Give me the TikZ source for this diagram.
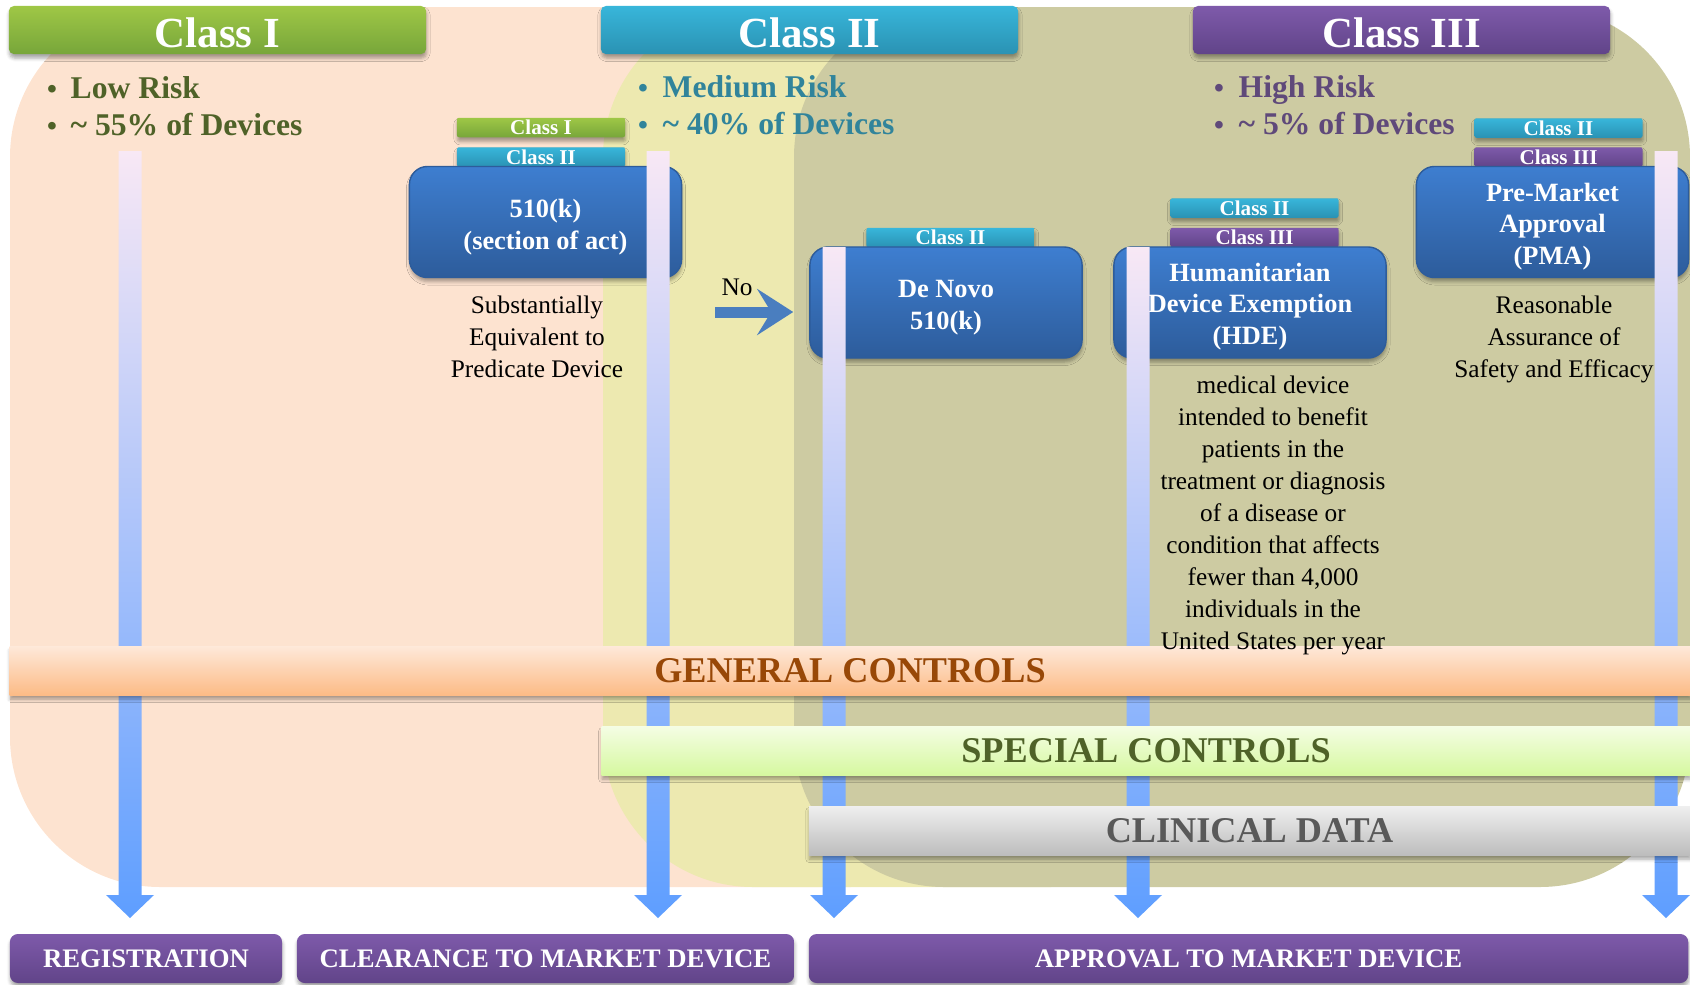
\documentclass[tikz,border=0pt]{standalone}
\usepackage{fontspec}
\setmainfont{Liberation Serif}
\usetikzlibrary{shadows.blur, arrows.meta}

\definecolor{cPeach}{HTML}{FDE3D0}
\definecolor{cYel}{HTML}{EDE9B0}
\definecolor{cOlv}{HTML}{CDCBA2}
\definecolor{grnT}{HTML}{9FC746}
\definecolor{grnB}{HTML}{77A63A}
\definecolor{tealT}{HTML}{38B6DA}
\definecolor{tealB}{HTML}{2A92B3}
\definecolor{purT}{HTML}{7E5AAA}
\definecolor{purB}{HTML}{614489}
\definecolor{bluT}{HTML}{3E7ED0}
\definecolor{bluB}{HTML}{2D5C9B}
\definecolor{arrT}{HTML}{F8E8F5}
\definecolor{arrM}{HTML}{B8D2F6}
\definecolor{arrB}{HTML}{5E9EFF}
\definecolor{cNo}{HTML}{4A7EBF}
\definecolor{txI}{HTML}{4F6228}
\definecolor{txII}{HTML}{31849B}
\definecolor{txIII}{HTML}{5F497A}
\definecolor{txGC}{HTML}{984807}
\definecolor{txCD}{HTML}{595959}
\definecolor{gcT}{HTML}{FEE8D8}
\definecolor{gcB}{HTML}{FCBB86}
\definecolor{scT}{HTML}{F4FDE3}
\definecolor{scB}{HTML}{D6F8A0}
\definecolor{cdT}{HTML}{EEEEEE}
\definecolor{cdB}{HTML}{BDBDBD}

\newcommand{\fsz}[2]{\fontsize{#1}{#2}\selectfont}
\newcommand{\varr}[3]{%
  \shade[top color=arrT, middle color=arrM, bottom color=arrB]
    (#2-11.5,#3) -- (#2+11.5,#3) -- (#2+11.5,895) -- (#2+24,895) -- (#2,918)
    -- (#2-24,895) -- (#2-11.5,895) -- cycle;
  \coordinate (#1) at (#2,918);}

\tikzset{
  shad/.style={blur shadow={shadow xshift=0.005cm, shadow yshift=-0.04cm, shadow opacity=35,
    shadow blur radius=0.035cm, shadow blur steps=4}},
  hdr/.style={minimum width=4.17cm, minimum height=0.48cm, inner sep=0, rounded corners=0.05cm,
    shad},
  hdrtxt/.style={anchor=base, inner sep=0, text=white, font=\fsz{12.2}{14}\bfseries},
  btxt/.style={anchor=base west, inner sep=0, font=\fsz{9}{11}\bfseries},
  bdot/.style={anchor=base, inner sep=0, font=\fsz{8}{10}\bfseries},
  tagbox/.style={minimum width=1.68cm, minimum height=0.195cm, inner sep=0, rounded corners=0.02cm,
    text=white, font=\fsz{6}{7}\bfseries, shad},
  tagII/.style={tagbox, top color=tealT, bottom color=tealB},
  tagIII/.style={tagbox, top color=purT, bottom color=purB},
  tagI/.style={tagbox, top color=grnT, bottom color=grnB},
  bbox/.style={minimum width=2.72cm, minimum height=1.11cm, inner sep=0, rounded corners=0.18cm,
    top color=bluT, bottom color=bluB, draw=bluB, line width=0.4pt, shad},
  boxtxt/.style={anchor=base, inner sep=0, text=white, align=center, font=\fsz{7.5}{8.95}\bfseries},
  desc/.style={align=center, inner sep=0, font=\fsz{7.2}{9.07}, text=black},
  band/.style={minimum height=0.48cm, inner sep=0, font=\fsz{10.3}{12}\bfseries, shad},
  foot/.style={minimum height=0.49cm, inner sep=0, rounded corners=0.08cm, top color=purT, bottom color=purB,
    text=white, font=\fsz{7.6}{9}\bfseries, shad},
  noarrow/.style={draw=cNo, line width=0.11cm, -{Stealth[length=0.36cm, width=0.46cm, inset=0.14cm]}}
}

\begin{document}
\begin{tikzpicture}[x=0.01cm, y=-0.01cm]
\useasboundingbox (0,0) rectangle (1690,984);

% background regions
\fill[cPeach, rounded corners=1.5cm] (10,7) rectangle (1000,887);
\fill[cYel, rounded corners=1.5cm] (603,7) rectangle (1200,887);
\fill[cOlv, rounded corners=1.5cm] (794,7) rectangle (1690,887);

% headers
\node[hdr, top color=grnT, bottom color=grnB] (h1) at (217.5,30) {};
\node[hdrtxt] (h1t) at (217.5,47) {Class I};
\node[hdr, top color=tealT, bottom color=tealB] (h2) at (809.5,30) {};
\node[hdrtxt] (h2t) at (809.5,47) {Class II};
\node[hdr, top color=purT, bottom color=purB] (h3) at (1401.5,30) {};
\node[hdrtxt] (h3t) at (1401.5,47) {Class III};

% bullets
\node[bdot, text=txI] (d1a) at (52,98) {\textbullet};
\node[btxt, text=txI] (b1a) at (70,98) {Low Risk};
\node[bdot, text=txI] (d1b) at (52,135) {\textbullet};
\node[btxt, text=txI] (b1b) at (70,135) {\textasciitilde\ 55\% of Devices};
\node[bdot, text=txII] (d2a) at (643,97) {\textbullet};
\node[btxt, text=txII] (b2a) at (662,97) {Medium Risk};
\node[bdot, text=txII] (d2b) at (643,134) {\textbullet};
\node[btxt, text=txII] (b2b) at (662,134) {\textasciitilde\ 40\% of Devices};
\node[bdot, text=txIII] (d3a) at (1219,97) {\textbullet};
\node[btxt, text=txIII] (b3a) at (1238,97) {High Risk};
\node[bdot, text=txIII] (d3b) at (1219,134) {\textbullet};
\node[btxt, text=txIII] (b3b) at (1238,134) {\textasciitilde\ 5\% of Devices};

% tags
\node[tagI] (t1a) at (541,127.5) {Class I};
\node[tagII] (t1b) at (541,157) {Class II};
\node[tagII] (t2) at (950.5,237.5) {Class II};
\node[tagII] (t3a) at (1254.5,208) {Class II};
\node[tagIII] (t3b) at (1254.5,237.5) {Class III};
\node[tagII] (t4a) at (1558.5,128) {Class II};
\node[tagIII] (t4b) at (1558.5,157) {Class III};

% blue boxes (text placed by the baseline of its last line)
\node[bbox] (k510) at (545.5,222) {};
\node[boxtxt] (k510t) at (545.5,249) {510(k)\\(section of act)};
\node[bbox] (denovo) at (946,302.5) {};
\node[boxtxt] (denovot) at (946,329) {De Novo\\510(k)};
\node[bbox] (hde) at (1250,302.5) {};
\node[boxtxt] (hdet) at (1250,344) {Humanitarian\\Device Exemption\\(HDE)};
\node[bbox] (pma) at (1552.5,222) {};
\node[boxtxt] (pmat) at (1552.5,264) {Pre-Market\\Approval\\(PMA)};

% No arrow
\node[desc, anchor=base] (no) at (737,295) {No};
\coordinate (noS) at (715,312);
\draw[noarrow] (noS) -- ([xshift=-0.16cm]noS -| denovo.west);

% vertical arrows
\varr{a1}{130}{151}
\varr{a2}{658}{151}
\varr{a3}{834}{247}
\varr{a4}{1138}{247}
\varr{a5}{1666}{151}

% bands
\node[band, minimum width=16.8cm, top color=gcT, bottom color=gcB, text=txGC] (gc) at (850,671) {GENERAL CONTROLS};
\node[band, minimum width=10.88cm, top color=scT, bottom color=scB, text=txI] (sc) at (1146,751) {SPECIAL CONTROLS};
\node[band, minimum width=8.81cm, top color=cdT, bottom color=cdB, text=txCD] (cd) at (1249.5,831) {CLINICAL DATA};

% footer boxes
\node[foot, minimum width=2.72cm] (reg) at (146,958.5) {REGISTRATION};
\node[foot, minimum width=4.97cm] (clr) at (545.5,958.5) {CLEARANCE TO MARKET DEVICE};
\node[foot, minimum width=8.79cm] (app) at (1248.5,958.5) {APPROVAL TO MARKET DEVICE};

% descriptions (anchor = baseline of the last line)
\node[desc, anchor=base] (dk) at (537,377) {Substantially\\Equivalent to\\Predicate Device};
\node[desc, anchor=base] (dh) at (1273,649) {medical device\\intended to benefit\\patients in the\\treatment or diagnosis\\of a disease or\\condition that affects\\fewer than 4,000\\individuals in the\\United States per year};
\node[desc, anchor=base] (dp) at (1554,377) {Reasonable\\Assurance of\\Safety and Efficacy};
\end{tikzpicture}
\end{document}
